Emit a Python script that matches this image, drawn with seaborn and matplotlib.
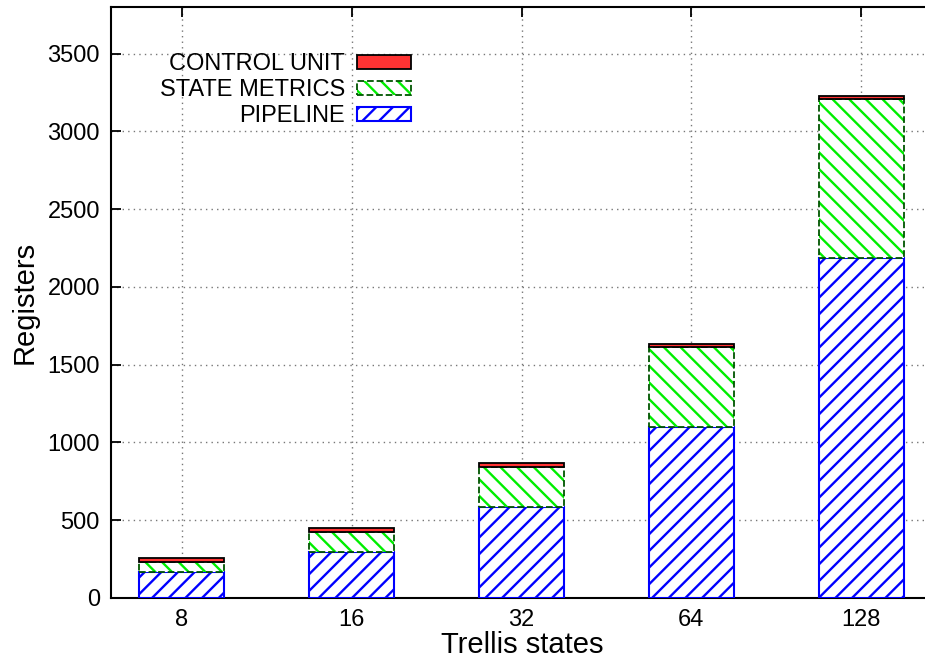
import pandas as pd
import seaborn as sns
import matplotlib.pyplot as plt
import matplotlib.patches as mpatches

# values
states = ['8', '16', '32', '64', '128']
pipeline = [170, 298, 587, 1097, 2184]
state_metrics = [64, 128, 258, 519, 1024]
control_unit = [22, 22, 21, 16, 22]

df = pd.DataFrame({
    'states': states,
    'pipeline': pipeline,
    'state_metrics': state_metrics,
    'control_unit': control_unit,
})
sm_bottom = list(df['pipeline'])
cu_bottom = list(df['pipeline'] + df['state_metrics'])

sns.set_style('white')
plt.rcParams['font.family'] = ['Liberation Sans', 'DejaVu Sans']
plt.rcParams['hatch.linewidth'] = 1.7
plt.rcParams['text.color'] = 'black'
plt.rcParams['axes.labelcolor'] = 'black'
plt.rcParams['xtick.color'] = 'black'
plt.rcParams['ytick.color'] = 'black'

fig = plt.figure(figsize=(9.25, 6.6), dpi=100)
ax = fig.add_axes([111 / 925, 62 / 660, 1 - 111 / 925 + 0.01, (598 - 7) / 660])

bw = 0.5

# pipeline
sns.barplot(data=df, x='states', y='pipeline', order=states, ax=ax, width=bw,
            color='white', saturation=1, edgecolor='blue', hatch='//', linewidth=1.5,
            zorder=3)
# state metrics: green hatch, then dashed dark outline
sns.barplot(data=df, x='states', y='state_metrics', order=states, ax=ax, width=bw,
            bottom=sm_bottom, color='white', saturation=1, edgecolor='#00ee00',
            hatch='\\\\', linewidth=0, zorder=3)
sns.barplot(data=df, x='states', y='state_metrics', order=states, ax=ax, width=bw,
            bottom=sm_bottom, color='white', saturation=1, fill=False,
            edgecolor='#005500', linestyle='--', linewidth=1.3, zorder=4)
# control unit
sns.barplot(data=df, x='states', y='control_unit', order=states, ax=ax, width=bw,
            bottom=cu_bottom, color='#ff3333', saturation=1, edgecolor='black',
            linewidth=1.3, zorder=4)

ax.set_xlim(-0.417, 4.43)
ax.set_ylim(0, 3800)
ax.set_yticks(range(0, 3501, 500))
ax.grid(True, color='#777777', linestyle=(0, (1, 3)), linewidth=1.0, zorder=0)
ax.set_axisbelow(True)

for side in ['left', 'bottom', 'top']:
    ax.spines[side].set_linewidth(1.5)
    ax.spines[side].set_color('black')
ax.spines['right'].set_visible(False)

ax.tick_params(axis='both', direction='in', length=7, width=1.3, labelsize=17,
               top=True, bottom=True, left=True, right=False, pad=8)
ax.set_xlabel('Trellis states', fontsize=21, labelpad=0)
ax.set_ylabel('Registers', fontsize=21, labelpad=6)

h_cu = mpatches.Patch(facecolor='#ff3333', edgecolor='black', linewidth=1.3)
h_sm = (mpatches.Patch(facecolor='white', edgecolor='#00ee00', hatch='\\\\', linewidth=0),
        mpatches.Patch(fill=False, edgecolor='#005500', linestyle='--', linewidth=1.3))
h_pl = mpatches.Patch(facecolor='white', edgecolor='blue', hatch='//', linewidth=1.5)
ax.legend([h_cu, h_sm, h_pl], ['CONTROL UNIT', 'STATE METRICS', 'PIPELINE'],
          loc='upper right', bbox_to_anchor=(411 / 925, 1 - 53 / 660),
          bbox_transform=fig.transFigure, frameon=False, markerfirst=False,
          fontsize=17, handlelength=2.3, handleheight=0.55, labelspacing=0.17,
          handletextpad=0.5, borderpad=0, borderaxespad=0)

fig.savefig('out.png', dpi=100)
